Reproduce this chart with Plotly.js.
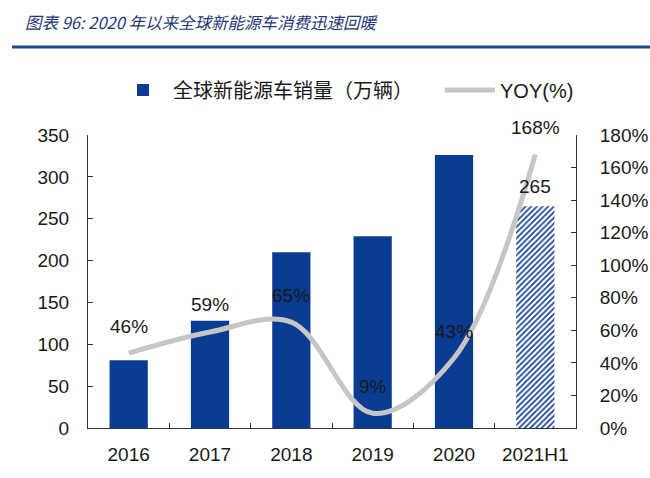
<!DOCTYPE html>
<html>
<head>
<meta charset="utf-8">
<script src="https://cdn.plot.ly/plotly-3.0.1.min.js"></script>
<style>html,body{margin:0;padding:0;background:#fff;}#chart{width:650px;height:478px;}</style>
</head>
<body>
<div id="chart"></div>
<script>
const categories = ['2016', '2017', '2018', '2019', '2020', '2021H1'];
const sales = [81, 128, 210, 229, 326, 265];
const yoy = [46, 59, 65, 9, 43, 168];
const yoyLabels = ['46%', '59%', '65%', '9%', '43%', '168%'];
const salesLabels = ['', '', '', '', '', '265'];
const hatchedCount = 1; // last period (half-year) drawn hatched

const BLUE = '#0b3c94';
const GRAY = '#c6c6c6';
const NUMFONT = 'Liberation Sans, Arial, sans-serif';
const CJKFONT = 'Noto Sans CJK SC, sans-serif';

const nSolid = categories.length - hatchedCount;

const traces = [
  {
    type: 'bar',
    name: '全球新能源车销量（万辆）',
    legend: 'legend',
    x: categories.slice(0, nSolid),
    y: sales.slice(0, nSolid),
    width: 0.47,
    offsetgroup: 'sales',
    marker: {color: BLUE, line: {width: 0}},
    hoverinfo: 'skip'
  },
  {
    type: 'bar',
    name: '全球新能源车销量（万辆）',
    showlegend: false,
    x: categories.slice(nSolid),
    y: sales.slice(nSolid),
    width: 0.47,
    offsetgroup: 'sales',
    marker: {
      color: '#ffffff',
      line: {width: 0},
      pattern: {shape: '/', fgcolor: BLUE, bgcolor: '#ffffff', size: 4, solidity: 0.4}
    },
    hoverinfo: 'skip'
  },
  {
    type: 'scatter',
    mode: 'lines',
    name: 'YOY(%)',
    legend: 'legend2',
    x: categories,
    y: yoy,
    yaxis: 'y2',
    line: {color: GRAY, width: 5, shape: 'spline', smoothing: 1},
    hoverinfo: 'skip'
  }
];

const annotations = [];
categories.forEach((c, i) => {
  annotations.push({
    x: i, y: yoy[i], xref: 'x', yref: 'y2', text: yoyLabels[i],
    showarrow: false, yshift: 27,
    font: {family: NUMFONT, size: 19, color: '#1a1a1a'}
  });
  if (salesLabels[i]) {
    annotations.push({
      x: i, y: sales[i], xref: 'x', yref: 'y', text: salesLabels[i],
      showarrow: false, yshift: 20,
      font: {family: NUMFONT, size: 19, color: '#1a1a1a'}
    });
  }
});

const layout = {
  width: 650, height: 478,
  margin: {l: 88, r: 74, t: 135, b: 50, pad: 0},
  paper_bgcolor: '#ffffff', plot_bgcolor: '#ffffff',
  title: {
    text: '图表 96: 2020 年以来全球新能源车消费迅速回暖',
    font: {family: CJKFONT, size: 16.5, color: '#25397a', style: 'italic'},
    xref: 'container', yref: 'container', x: 25/650, xanchor: 'left', y: 1 - 23/478, yanchor: 'middle'
  },
  showlegend: true,
  legend: {
    orientation: 'h', xref: 'container', yref: 'container',
    x: 113/650, xanchor: 'left', y: 1 - 90/478, yanchor: 'middle',
    font: {family: CJKFONT, size: 20, color: '#1a1a1a'},
    itemwidth: 50,
    bgcolor: 'rgba(0,0,0,0)'
  },
  legend2: {
    orientation: 'h', xref: 'container', yref: 'container',
    x: 440/650, xanchor: 'left', y: 1 - 90/478, yanchor: 'middle',
    font: {family: NUMFONT, size: 20, color: '#1a1a1a'},
    itemwidth: 50,
    bgcolor: 'rgba(0,0,0,0)'
  },
  barmode: 'group',
  xaxis: {
    type: 'category', range: [-0.5, 5.5], autorange: false,
    categoryorder: 'array', categoryarray: categories,
    showline: true, linecolor: '#333333', linewidth: 1,
    ticks: 'inside', tickson: 'boundaries', ticklen: 5, tickcolor: '#333333',
    tickfont: {family: NUMFONT, size: 19, color: '#1a1a1a'},
    tickangle: 0, ticklabelstandoff: 9,
    showgrid: false, zeroline: false
  },
  yaxis: {
    range: [0, 350], dtick: 50, tick0: 0,
    showline: true, linecolor: '#333333', linewidth: 1,
    ticks: 'inside', ticklen: 5, tickcolor: '#333333',
    tickfont: {family: NUMFONT, size: 19, color: '#1a1a1a'},
    ticklabelstandoff: 14,
    showgrid: false, zeroline: false
  },
  yaxis2: {
    overlaying: 'y', side: 'right',
    range: [0, 180], dtick: 20, tick0: 0, ticksuffix: '%',
    showline: true, linecolor: '#333333', linewidth: 1,
    ticks: 'inside', ticklen: 5, tickcolor: '#333333',
    tickfont: {family: NUMFONT, size: 19, color: '#1a1a1a'},
    ticklabelstandoff: 19,
    showgrid: false, zeroline: false
  },
  annotations: annotations,
  shapes: [
    {type: 'line', xref: 'paper', yref: 'paper',
     x0: (12-88)/488, x1: (650-88)/488, y0: (428-47)/293, y1: (428-47)/293,
     line: {color: '#1d4a8a', width: 3}}
  ]
};

Plotly.newPlot('chart', traces, layout, {displayModeBar: false});
</script>
</body>
</html>
